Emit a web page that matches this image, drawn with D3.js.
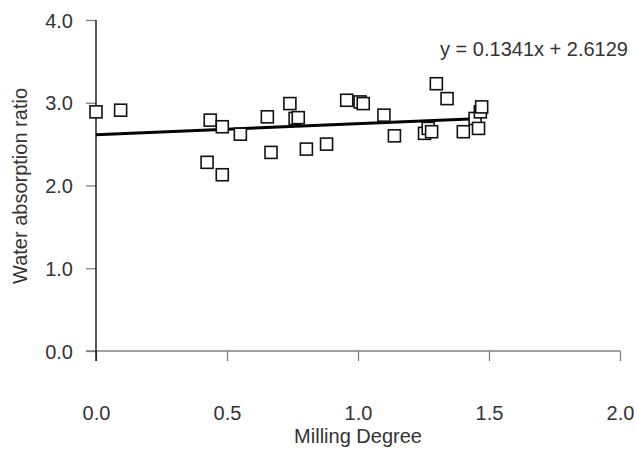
<!DOCTYPE html>
<html>
<head>
<meta charset="utf-8">
<script src="https://cdn.jsdelivr.net/npm/d3@7"></script>
<style>
body { margin: 0; background: #fff; }
text { font-family: "Liberation Sans", Arial, sans-serif; fill: #333; }
</style>
</head>
<body>
<div id="chart"></div>
<script>
var width = 634
var height = 449

// data
var millingDegree = [0.00, 0.094, 0.424, 0.436, 0.482, 0.482, 0.551, 0.654, 0.668, 0.740,
	0.760, 0.772, 0.803, 0.880, 0.957, 1.008, 1.020, 1.099, 1.139, 1.254,
	1.268, 1.281, 1.299, 1.340, 1.402, 1.447, 1.460, 1.467, 1.472]
var waterAbsorption = [2.89, 2.91, 2.28, 2.79, 2.71, 2.13, 2.62, 2.83, 2.40, 2.99,
	2.81, 2.82, 2.44, 2.50, 3.03, 3.01, 2.99, 2.85, 2.60, 2.63,
	2.69, 2.65, 3.23, 3.05, 2.65, 2.81, 2.69, 2.89, 2.95]
var xTicks = [0, 0.5, 1.0, 1.5, 2.0]
var yTicks = [0, 1, 2, 3, 4]
var slope = 0.1341
var intercept = 2.6129

var fontSize = "20px"

var svg = d3.select("#chart")
			.append("svg")
			.attr("width", width)
			.attr("height", height)

var x = d3.scaleLinear().domain([0, 2]).range([96, 620])
var y = d3.scaleLinear().domain([0, 4]).range([351, 20])

// x axis (gray)
var xAxis = svg.append("g")
	.attr("transform", "translate(0," + y(0) + ")")
	.call(d3.axisBottom(x).tickValues(xTicks).tickSize(10).tickFormat(d3.format(".1f")))
xAxis.select(".domain").remove()
xAxis.append("line")
	.attr("x1", x(0) - 10).attr("x2", x(2))
	.attr("stroke", "#808080").attr("stroke-width", 1.3)
xAxis.selectAll(".tick line").attr("stroke", "#808080").attr("stroke-width", 1.3)
xAxis.selectAll(".tick text")
	.attr("y", 69)
	.attr("dy", 0)
	.style("font-size", fontSize)
	.style("font-family", "Liberation Sans, Arial, sans-serif")
	.attr("fill", "#333")

// y axis
var yAxis = svg.append("g")
	.attr("transform", "translate(" + x(0) + ",0)")
	.call(d3.axisLeft(y).tickValues(yTicks).tickSize(10).tickFormat(d3.format(".1f")))
yAxis.select(".domain").remove()
yAxis.append("line")
	.attr("y1", y(4)).attr("y2", y(0) + 10)
	.attr("stroke", "#000").attr("stroke-width", 1.3)
yAxis.selectAll(".tick line").attr("stroke", "#808080").attr("stroke-width", 1.3)
yAxis.selectAll(".tick text")
	.attr("x", -23)
	.attr("dy", "0.35em")
	.style("font-size", fontSize)
	.style("font-family", "Liberation Sans, Arial, sans-serif")
	.attr("fill", "#333")

// axis titles
svg.append("text")
	.attr("x", x(1))
	.attr("y", 443)
	.attr("text-anchor", "middle")
	.style("font-size", fontSize)
	.text("Milling Degree")

svg.append("text")
	.attr("transform", "translate(27," + 186 + ") rotate(-90)")
	.attr("text-anchor", "middle")
	.style("font-size", fontSize)
	.text("Water absorption ratio")

// trend line
var xExt = d3.extent(millingDegree)
svg.append("line")
	.attr("x1", x(xExt[0])).attr("y1", y(slope * xExt[0] + intercept))
	.attr("x2", x(xExt[1])).attr("y2", y(slope * xExt[1] + intercept))
	.attr("stroke", "#000")
	.attr("stroke-width", 3)

// markers
var s = 12
svg.selectAll(".pt")
	.data(millingDegree)
	.enter()
	.append("rect")
	.attr("class", "pt")
	.attr("x", function(d) { return x(d) - s / 2 })
	.attr("y", function(d, i) { return y(waterAbsorption[i]) - s / 2 })
	.attr("width", s)
	.attr("height", s)
	.attr("fill", "#fff")
	.attr("stroke", "#111")
	.attr("stroke-width", 1.6)

// equation
svg.append("text")
	.attr("x", 628)
	.attr("y", 56)
	.attr("text-anchor", "end")
	.style("font-size", fontSize)
	.text("y = " + slope + "x + " + intercept)
</script>
</body>
</html>
